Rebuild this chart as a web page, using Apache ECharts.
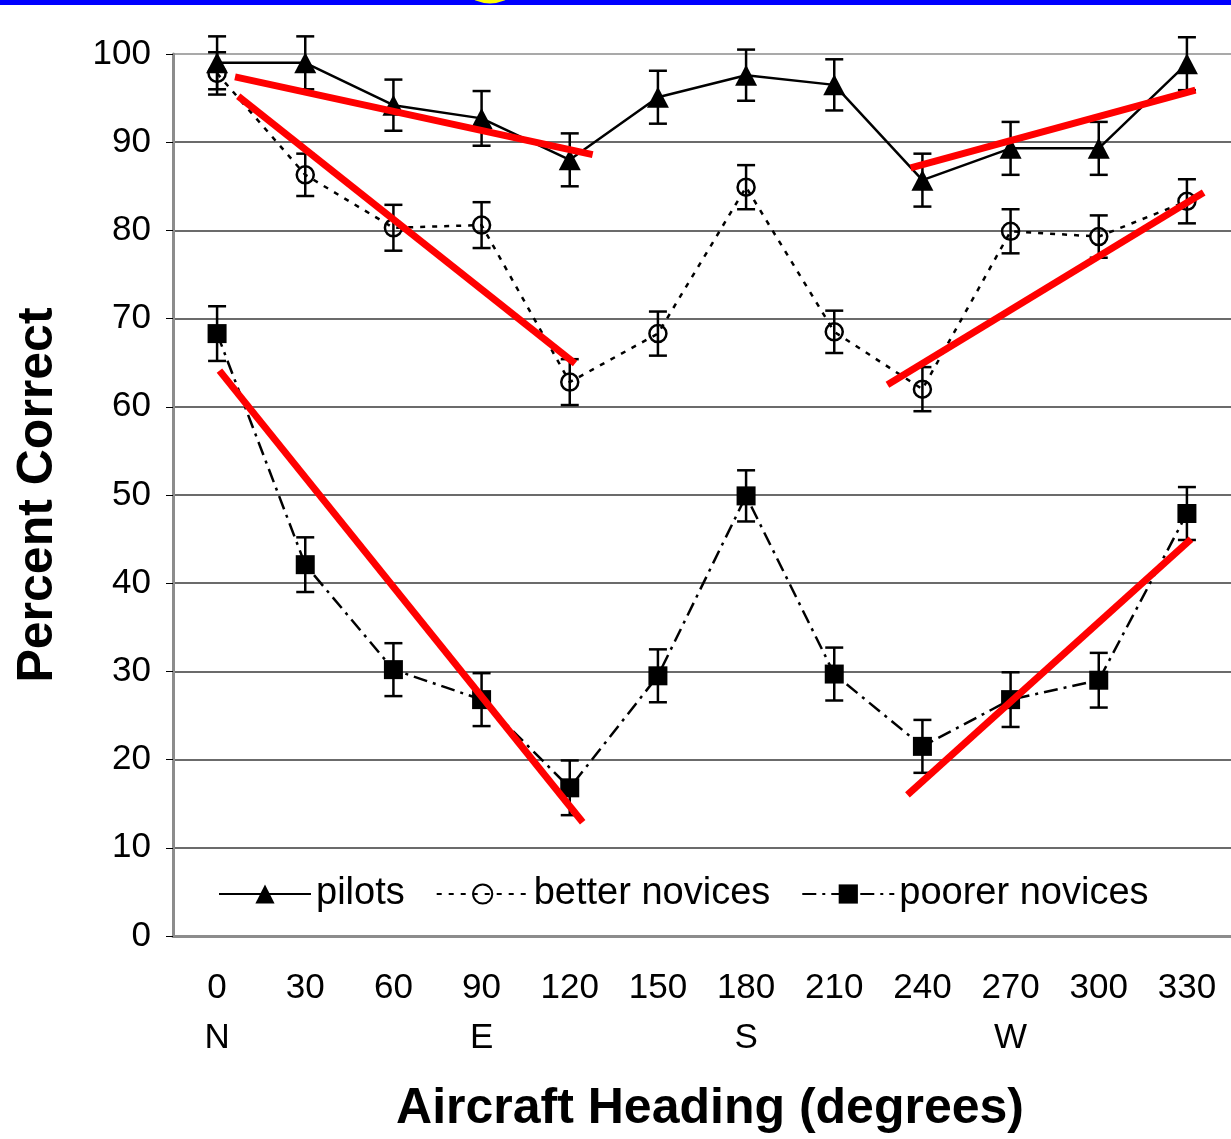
<!DOCTYPE html>
<html>
<head>
<meta charset="utf-8">
<title>Percent Correct by Aircraft Heading</title>
<script src="https://cdn.jsdelivr.net/npm/echarts@6/dist/echarts.min.js"></script>
<style>
    html, body { margin: 0; padding: 0; background: #fff; }
    #headingChart { width: 1231px; height: 1139px; }
</style>
</head>
<body>
<div id="headingChart"></div>
<script>
// x categories (degrees) and compass labels under them
var headings = ['0', '30', '60', '90', '120', '150', '180', '210', '240', '270', '300', '330'];
var compass = ['N', '', '', 'E', '', '', 'S', '', '', 'W', '', ''];

// percent correct
var pilots = [99.0, 99.0, 94.2, 92.7, 88.0, 95.1, 97.6, 96.5, 85.7, 89.3, 89.3, 98.9];
var pilotsErr = [3.0, 3.0, 2.9, 3.1, 3.0, 3.0, 2.9, 2.9, 3.0, 3.0, 3.0, 3.0];
var better = [97.8, 86.3, 80.3, 80.6, 62.8, 68.3, 84.9, 68.5, 62.0, 79.9, 79.3, 83.3];
var betterErr = [2.4, 2.4, 2.6, 2.6, 2.6, 2.5, 2.5, 2.4, 2.5, 2.5, 2.4, 2.5];
var poorer = [68.3, 42.1, 30.2, 26.8, 16.8, 29.5, 49.9, 29.7, 21.5, 26.8, 29.0, 47.9];
var poorerErr = [3.1, 3.1, 3.0, 3.0, 3.1, 3.0, 2.9, 3.0, 3.0, 3.1, 3.1, 3.0];

// red trend lines, [heading in degrees, percent]
var fitPilotsLeft = [[6.1, 97.4], [127.8, 88.6]];
var fitBetterLeft = [[7.2, 95.2], [121.8, 64.9]];
var fitPoorerLeft = [[0.8, 64.1], [124.4, 12.9]];
var fitPilotsRight = [[236.0, 87.1], [332.9, 95.9]];
var fitBetterRight = [[228.1, 62.5], [335.7, 84.3]];
var fitPoorerRight = [[234.9, 16.0], [331.4, 45.0]];

var yTicks = [0, 10, 20, 30, 40, 50, 60, 70, 80, 90, 100];

function errData(values, errs) {
    var out = [];
    for (var i = 0; i < values.length; i++) {
        out.push([i, values[i], errs[i]]);
    }
    return out;
}

// vertical error bar with caps
function renderErr(params, api) {
    var idx = api.value(0);
    var v = api.value(1);
    var e = api.value(2);
    var top = api.coord([idx, v + e]);
    var bot = api.coord([idx, v - e]);
    var half = 9;
    var st = { stroke: '#000', lineWidth: 2.5 };
    return {
        type: 'group',
        children: [
            { type: 'line', shape: { x1: top[0], y1: top[1], x2: bot[0], y2: bot[1] }, style: st },
            { type: 'line', shape: { x1: top[0] - half, y1: top[1], x2: top[0] + half, y2: top[1] }, style: st },
            { type: 'line', shape: { x1: bot[0] - half, y1: bot[1], x2: bot[0] + half, y2: bot[1] }, style: st }
        ]
    };
}

function errSeries(values, errs) {
    return {
        type: 'custom',
        renderItem: renderErr,
        data: errData(values, errs),
        encode: { x: 0, y: 1 },
        clip: false,
        silent: true,
        z: 3
    };
}

function fitSeries(data) {
    return {
        type: 'line',
        xAxisIndex: 1,
        data: data,
        symbol: 'none',
        clip: false,
        silent: true,
        lineStyle: { color: '#ff0000', width: 7 },
        z: 10
    };
}

function showHeadingChart(container) {
    var dom = document.getElementById(container);
    var myChart = echarts.init(dom);
    var gridColors = [];
    for (var i = 0; i < yTicks.length; i++) {
        gridColors.push(yTicks[i] === 100 ? '#8c8c8c' : '#3a3a3a');
    }
    var option = {
        animation: false,
        backgroundColor: '#fff',
        textStyle: { fontFamily: 'Liberation Sans, Arial, sans-serif', color: '#000' },
        graphic: [
            { type: 'rect', left: 0, top: 0, shape: { x: 0, y: 0, width: 1231, height: 5 }, style: { fill: '#0000ff' }, z: 100 },
            { type: 'circle', shape: { cx: 490, cy: -32, r: 35.5 }, style: { fill: '#ffff00' }, z: 101 }
        ],
        grid: {
            left: 173,
            right: -8,
            top: 54,
            bottom: 203
        },
        legend: {
            left: 213,
            top: 870,
            itemWidth: 92,
            itemHeight: 24,
            itemGap: 31,
            data: ['pilots', 'better novices', 'poorer novices'],
            textStyle: { fontSize: 38, color: '#000', fontFamily: 'Liberation Sans, Arial, sans-serif' }
        },
        xAxis: [
            {
                type: 'category',
                data: headings,
                boundaryGap: true,
                axisLine: { lineStyle: { color: '#8c8c8c', width: 3 } },
                axisTick: { alignWithLabel: true, length: 10, lineStyle: { color: '#000', width: 1 } },
                axisLabel: {
                    interval: 0,
                    margin: 27,
                    fontSize: 35,
                    lineHeight: 50,
                    color: '#000',
                    formatter: function (value, index) {
                        return value + '\n' + compass[index];
                    }
                },
                name: 'Aircraft Heading (degrees)',
                nameLocation: 'middle',
                nameGap: 148,
                nameTextStyle: { fontSize: 50, fontWeight: 'bold', color: '#000', padding: [0, 0, 0, 16] }
            },
            {
                // hidden heading scale for the trend lines
                type: 'value',
                min: -15,
                max: 345,
                show: false
            }
        ],
        yAxis: {
            type: 'value',
            min: 0,
            max: 100,
            interval: 10,
            axisLine: { show: true, onZero: false, lineStyle: { color: '#8c8c8c', width: 3 } },
            axisTick: { show: true, length: 7, lineStyle: { color: '#000', width: 1 } },
            axisLabel: { fontSize: 35, margin: 22, color: '#000' },
            splitLine: { show: true, lineStyle: { color: gridColors, width: 1.5 } },
            name: 'Percent Correct',
            nameLocation: 'middle',
            nameGap: 110,
            nameTextStyle: { fontSize: 50, fontWeight: 'bold', color: '#000' }
        },
        series: [
            errSeries(pilots, pilotsErr),
            errSeries(better, betterErr),
            errSeries(poorer, poorerErr),
            {
                name: 'pilots',
                type: 'line',
                data: pilots,
                clip: false,
                symbol: 'triangle',
                symbolSize: [22, 21],
                itemStyle: { color: '#000' },
                lineStyle: { color: '#000', width: 2.5 },
                z: 5
            },
            {
                name: 'better novices',
                type: 'line',
                data: better,
                clip: false,
                symbol: 'circle',
                symbolSize: 17,
                itemStyle: { color: 'rgba(0,0,0,0)', borderColor: '#000', borderWidth: 2.5 },
                lineStyle: { color: '#000', width: 2.5, type: [5, 7] },
                z: 5
            },
            {
                name: 'poorer novices',
                type: 'line',
                data: poorer,
                clip: false,
                symbol: 'rect',
                symbolSize: 19,
                itemStyle: { color: '#000' },
                lineStyle: { color: '#000', width: 2.5, type: [14, 6, 3, 6] },
                z: 5
            },
            fitSeries(fitPilotsLeft),
            fitSeries(fitBetterLeft),
            fitSeries(fitPoorerLeft),
            fitSeries(fitPilotsRight),
            fitSeries(fitBetterRight),
            fitSeries(fitPoorerRight)
        ]
    };
    myChart.setOption(option, true);
}

showHeadingChart('headingChart');
</script>
</body>
</html>
